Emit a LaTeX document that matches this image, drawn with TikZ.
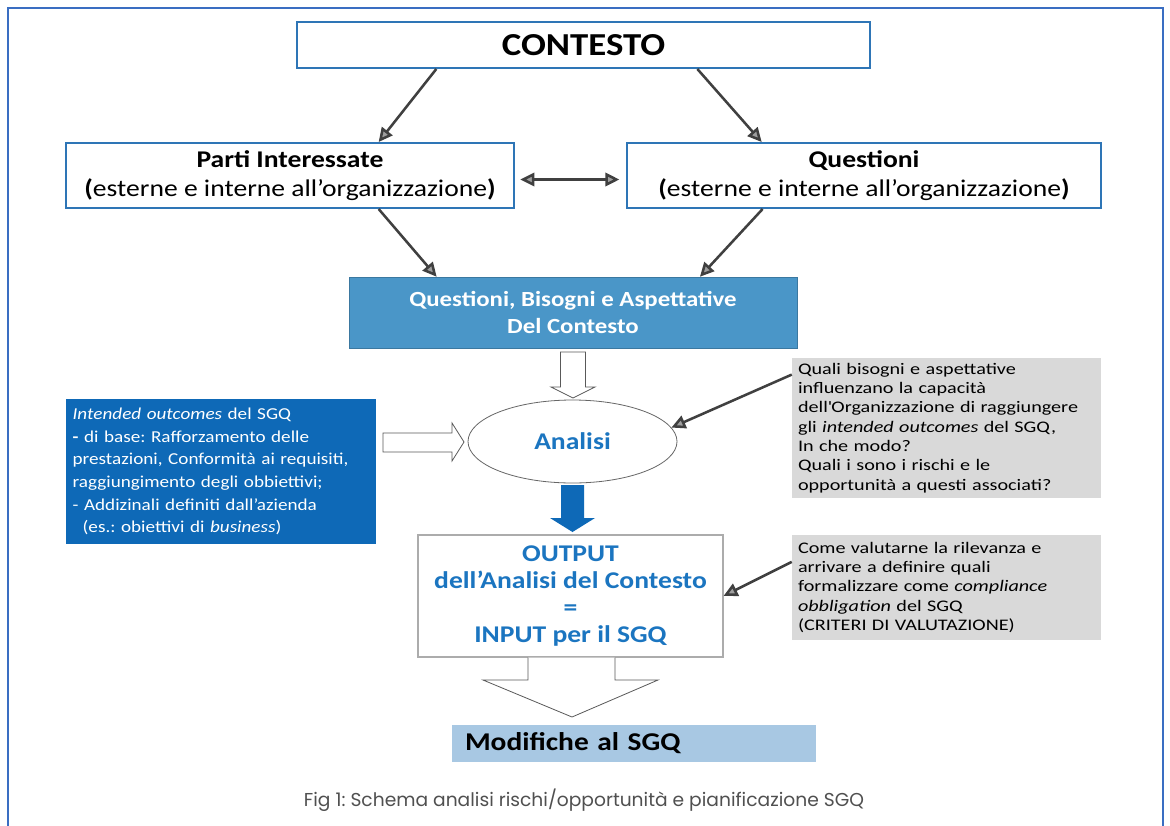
\documentclass[tikz,border=0pt]{standalone}
\usepackage{fontspec}
\setmainfont{Carlito}[FakeStretch=1.15]
\newfontfamily\grfont{Carlito}[FakeStretch=1.25]
\newfontfamily\capfont{Poppins}
\usetikzlibrary{arrows.meta,shapes.geometric,calc}
\definecolor{frameblue}{HTML}{3A6EC2}
\definecolor{boxblue}{HTML}{2E75B6}
\definecolor{midblue}{HTML}{4A96C8}
\definecolor{deepblue}{HTML}{0E69B7}
\definecolor{txtblue}{HTML}{1B75C0}
\definecolor{paleblue}{HTML}{A8C8E3}
\definecolor{greybox}{HTML}{D9D9D9}
\definecolor{arrowgrey}{HTML}{404040}
\definecolor{captiongrey}{HTML}{505050}
\frenchspacing
\tikzset{
  whitebox/.style={draw=boxblue,line width=1.5pt,fill=white,rectangle,inner sep=0pt,align=center},
  conn/.style={draw=arrowgrey,line width=1.9pt,-{Triangle[length=10.5pt,width=10pt,fill=gray!75]}},
  dconn/.style={draw=arrowgrey,line width=1.9pt,{Triangle[length=10.5pt,width=10pt,fill=gray!75]}-{Triangle[length=10.5pt,width=10pt,fill=gray!75]}},
  hollow/.style={draw=gray!70!black,line width=0.6pt,fill=white},
  greynote/.style={fill=greybox,rectangle,inner xsep=4.5pt,inner ysep=0pt,align=left,font=\grfont\fontsize{12.1pt}{14.5pt}\selectfont},
}
\begin{document}
\begin{tikzpicture}[x=0.75pt,y=-0.75pt]
\useasboundingbox (0,0) rectangle (1170,825);
\fill[white] (0,0) rectangle (1170,825);
\draw[frameblue,line width=1.5pt] (8,845) -- (8,8) -- (1163,8) -- (1163,845);

% top boxes
\node[whitebox,minimum width=429.75pt,minimum height=34.5pt,font=\bfseries\fontsize{24pt}{28pt}\selectfont] (ctx) at (583.5,45) {CONTESTO};
\node[whitebox,minimum width=336pt,minimum height=48.75pt,font=\fontsize{18pt}{21.75pt}\selectfont] (pi) at (290,175.5)
  {\textbf{Parti Interessate}\\\textbf{(}esterne e interne all’organizzazione\textbf{)}};
\node[whitebox,minimum width=355.5pt,minimum height=48.75pt,font=\fontsize{18pt}{21.75pt}\selectfont] (qu) at (864,175.5)
  {\textbf{Questioni}\\\textbf{(}esterne e interne all’organizzazione\textbf{)}};

\node[fill=midblue,draw=midblue!80!black,line width=0.4pt,rectangle,minimum width=336pt,minimum height=53.25pt,align=center,text=white,font=\bfseries\fontsize{16.2pt}{20pt}\selectfont] (qba) at (573,312.5)
  {Questioni, Bisogni e Aspettative\\Del Contesto};

\node[ellipse,draw=gray!80!black,line width=0.6pt,minimum width=156.75pt,minimum height=62.25pt,inner sep=0pt,text=txtblue,font=\bfseries\fontsize{18pt}{20pt}\selectfont] (ell) at (572.5,441.5) {Analisi};

\node[fill=deepblue,rectangle,minimum height=108.75pt,inner xsep=5pt,inner ysep=0pt,text width=222.5pt,align=left,text=white,font=\fontsize{12.5pt}{17pt}\selectfont] (io) at (221,471.5)
  {\textit{Intended outcomes} del SGQ\\
   \textbf{-} di base: Rafforzamento delle\\
   prestazioni, Conformità ai requisiti,\\
   raggiungimento degli obbiettivi;\\
   - Addizinali definiti dall’azienda\\
   \hspace*{0.6em}(es.: obiettivi di \textit{business})};

\node[greynote,minimum height=105pt,text width=222.75pt] (g1) at (946.5,428)
  {Quali bisogni e aspettative\\
   influenzano la capacità\\
   dell\textquotesingle Organizzazione di raggiungere\\
   gli \textit{intended outcomes} del SGQ,\\
   In che modo?\\
   Quali i sono i rischi e le\\
   opportunità a questi associati?};

\node[draw=gray!65,line width=0.8pt,fill=white,rectangle,minimum width=228.75pt,minimum height=91.5pt,inner sep=0pt,align=center,text=txtblue,font=\bfseries\fontsize{18pt}{20.3pt}\selectfont] (out) at (570.5,596)
  {OUTPUT\\dell’Analisi del Contesto\\=\\INPUT per il SGQ};

\node[greynote,minimum height=78.75pt,text width=222.75pt] (g2) at (946.5,587.5)
  {Come valutarne la rilevanza e\\
   arrivare a definire quali\\
   formalizzare come \textit{compliance}\\
   \textit{obbligation} del SGQ\\
   (CRITERI DI VALUTAZIONE)};

\node[fill=paleblue,rectangle,minimum height=27.75pt,inner xsep=9.75pt,inner ysep=0pt,text width=253.5pt,align=left,font=\bfseries\fontsize{19.2pt}{24pt}\selectfont] (mod) at (634,743.5)
  {Modifiche al SGQ};

\node[text=captiongrey,font=\capfont\fontsize{14pt}{16pt}\selectfont,inner sep=0pt] (cap) at (584,800)
  {Fig 1: Schema analisi rischi/opportunità e pianificazione SGQ};

% connectors
\draw[conn] ($(ctx.south west)!.244!(ctx.south east)$) -- ($(pi.north west)!.697!(pi.north east)$);
\draw[conn] ($(ctx.south west)!.698!(ctx.south east)$) -- ($(qu.north west)!.285!(qu.north east)$);
\draw[dconn] ([xshift=4pt,yshift=-3pt]pi.east) -- ([xshift=-5pt,yshift=-3pt]qu.west);
\draw[conn] ($(pi.south west)!.697!(pi.south east)$) -- ($(qba.north west)!.196!(qba.north east)$);
\draw[conn] ($(qu.south west)!.287!(qu.south east)$) -- ($(qba.north west)!.783!(qba.north east)$);
\draw[conn] ($(g1.north west)!.12!(g1.south west)$) -- (ell.8);
\draw[conn] ($(g2.north west)!.257!(g2.south west)$) -- (out.east);

% block arrows
\draw[hollow] (560.5,352) -- (560.5,387) -- (551,387) -- (573,398) -- (595,387) -- (585.5,387) -- (585.5,352) -- cycle;
\draw[hollow] (383,433) -- (452,433) -- (452,423) -- (464,442) -- (452,461) -- (452,452) -- (383,452) -- cycle;
\fill[deepblue] (561,485) -- (561,518) -- (550,518) -- (572.5,532) -- (595,518) -- (584,518) -- (584,485) -- cycle;
\draw[hollow] (528,657.5) -- (528,680) -- (483,680) -- (572,717) -- (658,680) -- (615,680) -- (615,657.5);
\end{tikzpicture}
\end{document}
